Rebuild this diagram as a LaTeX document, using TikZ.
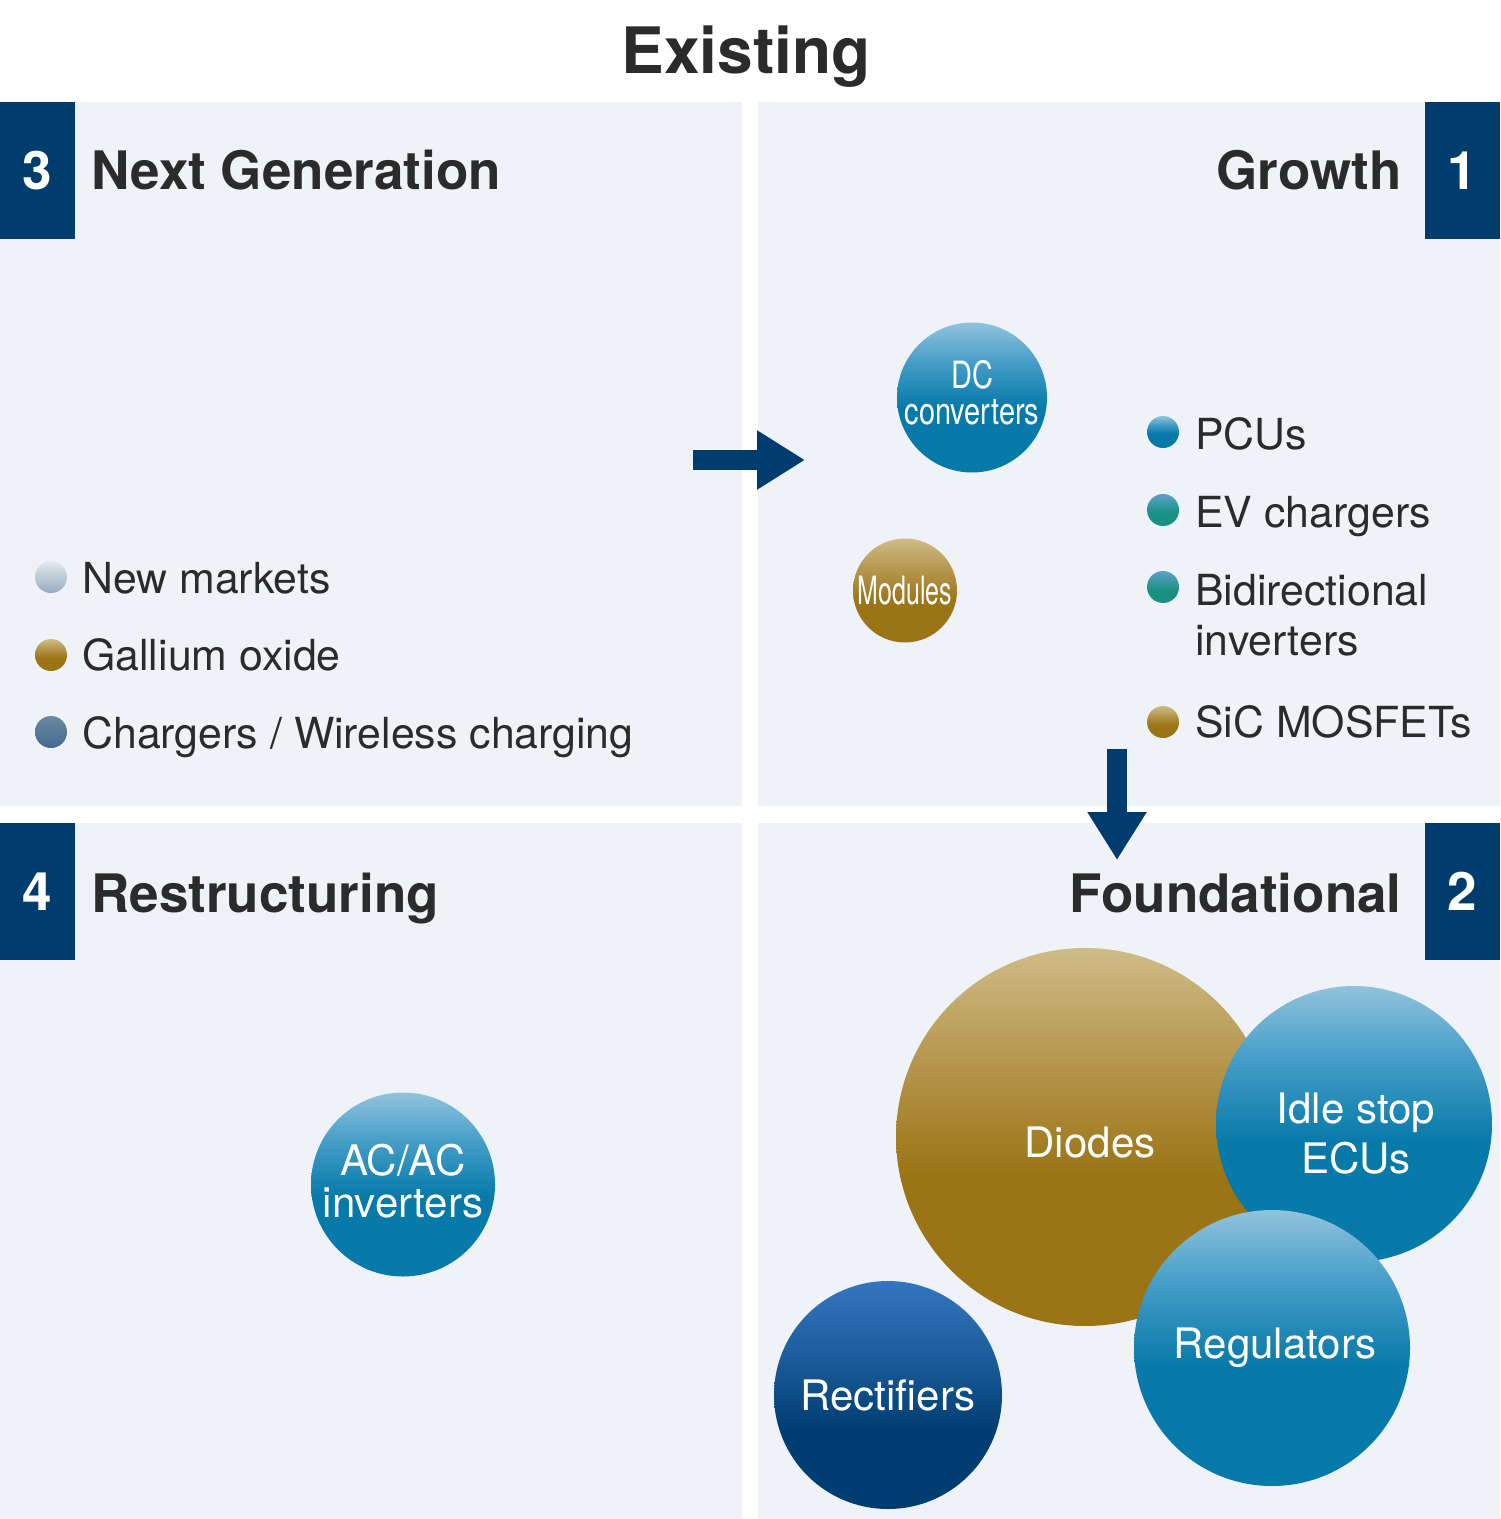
\documentclass[tikz,border=0pt]{standalone}
\usepackage{fontspec}
\setmainfont{TeX Gyre Heros}
\newfontfamily\narrowfont[FakeStretch=0.77]{TeX Gyre Heros}
\newfontfamily\modulefont[FakeStretch=0.64]{TeX Gyre Heros}
\usepackage{tikz}
\usetikzlibrary{arrows.meta}

\definecolor{panel}{RGB}{239,243,247}
\definecolor{navy}{RGB}{0,61,110}
\definecolor{ink}{RGB}{43,43,43}
\definecolor{blueDk}{RGB}{8,122,170}
\definecolor{blueMd}{RGB}{70,158,200}
\definecolor{blueLt}{RGB}{145,195,220}
\definecolor{goldDk}{RGB}{155,116,22}
\definecolor{goldMd}{RGB}{185,155,85}
\definecolor{goldLt}{RGB}{207,188,135}
\definecolor{navyDk}{RGB}{0,61,112}
\definecolor{navyMd}{RGB}{30,95,160}
\definecolor{navyLt}{RGB}{52,118,190}
\definecolor{greyDk}{RGB}{150,172,190}
\definecolor{greyLt}{RGB}{228,233,237}
\definecolor{slateDk}{RGB}{70,105,140}
\definecolor{slateLt}{RGB}{105,138,165}
\definecolor{tealDk}{RGB}{25,145,130}
\definecolor{tealLt}{RGB}{95,160,200}

\pgfdeclareverticalshading{blueball}{100bp}{color(0bp)=(blueDk); color(25bp)=(blueDk); color(47bp)=(blueDk); color(62bp)=(blueMd); color(75bp)=(blueLt); color(100bp)=(blueLt)}
\pgfdeclareverticalshading{goldball}{100bp}{color(0bp)=(goldDk); color(25bp)=(goldDk); color(45bp)=(goldDk); color(62bp)=(goldMd); color(75bp)=(goldLt); color(100bp)=(goldLt)}
\pgfdeclareverticalshading{navyball}{100bp}{color(0bp)=(navyDk); color(25bp)=(navyDk); color(42bp)=(navyDk); color(60bp)=(navyMd); color(75bp)=(navyLt); color(100bp)=(navyLt)}
\pgfdeclareverticalshading{greyball}{100bp}{color(0bp)=(greyDk); color(25bp)=(greyDk); color(75bp)=(greyLt); color(100bp)=(greyLt)}
\pgfdeclareverticalshading{slateball}{100bp}{color(0bp)=(slateDk); color(25bp)=(slateDk); color(75bp)=(slateLt); color(100bp)=(slateLt)}
\pgfdeclareverticalshading{tealball}{100bp}{color(0bp)=(tealDk); color(25bp)=(tealDk); color(45bp)=(tealDk); color(75bp)=(tealLt); color(100bp)=(tealLt)}

\begin{document}
\begin{tikzpicture}[x=0.5pt, y=-0.5pt,
    numbox/.style={fill=navy, text=white, font=\fontsize{26.5}{30}\selectfont\bfseries,
      minimum width=37.5pt, minimum height=68.5pt, inner sep=0pt},
    heading/.style={text=ink, font=\fontsize{26.5}{30}\selectfont\bfseries, inner sep=0pt},
    legtext/.style={text=ink, font=\fontsize{21.4}{25}\selectfont, inner sep=0pt, align=left},
    bubble/.style={circle, inner sep=0pt, draw=none, shading=#1, shade},
    bubbletext/.style={text=white, font=\fontsize{21}{21}\selectfont, align=center, inner sep=0pt},
    legdot/.style={circle, inner sep=0pt, minimum size=16pt, draw=none, shading=#1, shade},
    bigarrow/.style={navy, line width=10pt, -{Triangle[length=24pt, width=28pt]}}]

    \useasboundingbox (0,0) rectangle (1500,1519);
    \fill[white] (0,0) rectangle (1500,1519);

    \fill[panel] (0,102) rectangle (742,806);
    \fill[panel] (758,102) rectangle (1500,806);
    \fill[panel] (0,823) rectangle (742,1519);
    \fill[panel] (758,823) rectangle (1500,1519);

    \node [text=ink, font=\fontsize{32}{36}\selectfont\bfseries, inner sep=0pt, anchor=base] (existing) at (746,74) {Existing};

    \node [numbox] (n3) at (37.5,170.5) {3};
    \node [numbox] (n1) at (1462.5,170.5) {1};
    \node [numbox] (n4) at (37.5,891.5) {4};
    \node [numbox] (n2) at (1462.5,891.5) {2};

    \node [heading, anchor=base west] (nextgen) at (91,190) {Next Generation};
    \node [heading, anchor=base east] (growth) at (1402,190) {Growth};
    \node [heading, anchor=base west] (restruct) at (91,912) {Restructuring};
    \node [heading, anchor=base east] (found) at (1402,912) {Foundational};

    \node [legdot=greyball] (dnew) at (51,577) {};
    \node [legdot=goldball] (dgal) at (51,655) {};
    \node [legdot=slateball] (dchg) at (51,732) {};
    \node [legtext, anchor=base west] (tnew) at (82,593) {New markets};
    \node [legtext, anchor=base west] (tgal) at (82,670) {Gallium oxide};
    \node [legtext, anchor=base west] (tchg) at (82,748) {Chargers / Wireless charging};

    \node [legdot=blueball] (dpcu) at (1163,432) {};
    \node [legdot=tealball] (dev) at (1163,510) {};
    \node [legdot=tealball] (dbid) at (1163,587) {};
    \node [legdot=goldball] (dsic) at (1163,722) {};
    \node [legtext, anchor=base west] (tpcu) at (1195,449) {PCUs};
    \node [legtext, anchor=base west] (tev) at (1195,527) {EV chargers};
    \node [legtext, anchor=base west] (tbid) at (1195,655) {Bidirectional\\inverters};
    \node [legtext, anchor=base west] (tsic) at (1195,737) {SiC MOSFETs};

    \node [bubble=blueball, minimum size=75pt] (dc) at (972,397.5) {};
    \node [bubbletext, font=\narrowfont\fontsize{18.8}{18}\selectfont, yshift=2.5pt] at (dc) {DC\\converters};
    \node [bubble=goldball, minimum size=52pt] (mod) at (905,590.5) {};
    \node [bubbletext, font=\modulefont\fontsize{19.5}{20}\selectfont] at (mod) {Modules};

    \node [bubble=blueball, minimum size=92pt] (acac) at (403,1184.5) {};
    \node [bubbletext, yshift=1.5pt] at (acac) {AC/AC\\inverters};

    \node [bubble=goldball, minimum size=189pt] (diodes) at (1085,1137) {};
    \node [bubbletext, xshift=2.5pt, yshift=-2.5pt] at (diodes) {Diodes};
    \node [bubble=blueball, minimum size=138pt] (idle) at (1354,1124) {};
    \node [bubbletext, font=\fontsize{21}{25}\selectfont, xshift=1pt, yshift=-5pt] at (idle) {Idle stop\\ECUs};
    \node [bubble=blueball, minimum size=138pt] (reg) at (1272,1348) {};
    \node [bubbletext, xshift=1.5pt] at (reg) {Regulators};
    \node [bubble=navyball, minimum size=114pt] (rect) at (888,1395) {};
    \node [bubbletext] at (rect) {Rectifiers};

    \coordinate (a1s) at (693,460);
    \coordinate (a1e) at (805,460);
    \coordinate (a2s) at (1117,749);
    \coordinate (a2e) at (1117,860);
    \draw [bigarrow] (a1s) -- (a1e);
    \draw [bigarrow] (a2s) -- (a2e);

\end{tikzpicture}
\end{document}
